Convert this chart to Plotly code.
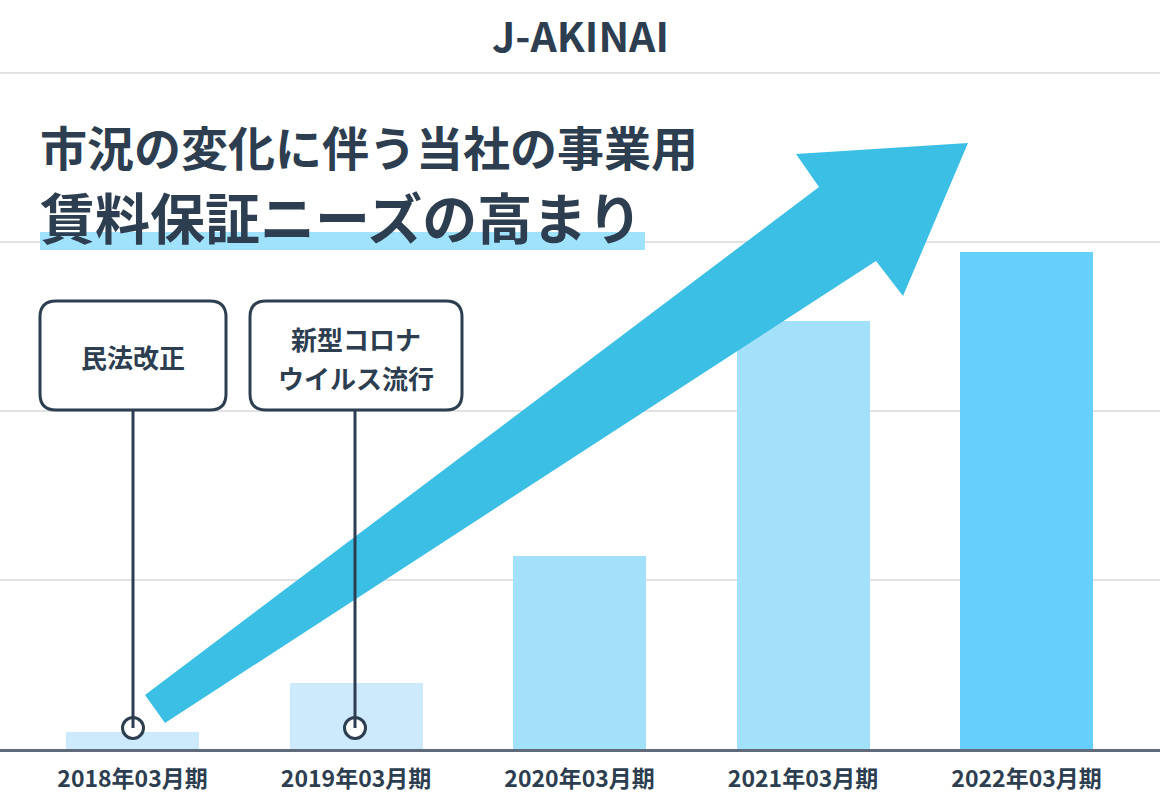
import plotly.graph_objects as go

# ---- data ----
categories = ["2018年03月期", "2019年03月期", "2020年03月期", "2021年03月期", "2022年03月期"]
values = [10, 39, 114, 253, 294]
bar_colors = ["#cdeafd", "#cdeafd", "#a3e1fb", "#a3e1fb", "#66cffc"]
title_text = "J-AKINAI"
heading_line1 = "市況の変化に伴う当社の事業用"
heading_line2 = "賃料保証ニーズの高まり"
callout1_text = "民法改正"
callout2_line1 = "新型コロナ"
callout2_line2 = "ウイルス流行"

W, H = 1160, 812
B = 63                      # bottom margin
PH = H - B                  # plot height (px)
DARK = "#2c3e50"
FONT = "Noto Sans CJK JP"


def X(px):
    return px / W


def Y(py):
    return (PH - py) / PH


def rounded_rect(x0, y0, x1, y1, r):
    return (
        f"M {X(x0 + r)},{Y(y0)} L {X(x1 - r)},{Y(y0)} Q {X(x1)},{Y(y0)} {X(x1)},{Y(y0 + r)} "
        f"L {X(x1)},{Y(y1 - r)} Q {X(x1)},{Y(y1)} {X(x1 - r)},{Y(y1)} "
        f"L {X(x0 + r)},{Y(y1)} Q {X(x0)},{Y(y1)} {X(x0)},{Y(y1 - r)} "
        f"L {X(x0)},{Y(y0 + r)} Q {X(x0)},{Y(y0)} {X(x0 + r)},{Y(y0)} Z"
    )


fig = go.Figure()
fig.add_trace(go.Bar(
    x=list(range(len(categories))), y=values,
    marker=dict(color=bar_colors, line=dict(width=0)),
    width=0.595, hoverinfo="skip",
))

shapes = []
# big arrow
arrow_pts = [(145, 695), (819, 187), (796, 154), (968, 143), (903, 296), (876, 261), (165, 723)]
path = "M " + " L ".join(f"{X(a)},{Y(b)}" for a, b in arrow_pts) + " Z"
shapes.append(dict(type="path", xref="paper", yref="paper", path=path,
                   fillcolor="#3bbfe4", line=dict(width=0), layer="above"))
# highlight under heading line 2
shapes.append(dict(type="rect", xref="paper", yref="paper",
                   x0=X(40), x1=X(645), y0=Y(250), y1=Y(232),
                   fillcolor="#a0e1fb", line=dict(width=0), layer="above"))
# callout boxes
for (x0, x1) in [(40, 226), (250, 462)]:
    shapes.append(dict(type="path", xref="paper", yref="paper",
                       path=rounded_rect(x0, 301, x1, 410, 16),
                       fillcolor="white", line=dict(color=DARK, width=3), layer="above"))
# callout stems and circles
for cx in [133, 355]:
    r = 10.5
    cy = 728
    shapes.append(dict(type="circle", xref="paper", yref="paper",
                       x0=X(cx - r), x1=X(cx + r), y0=Y(cy + r), y1=Y(cy - r),
                       fillcolor="white", line=dict(color=DARK, width=3), layer="above"))
    shapes.append(dict(type="line", xref="paper", yref="paper",
                       x0=X(cx), x1=X(cx), y0=Y(411), y1=Y(cy),
                       line=dict(color=DARK, width=3), layer="above"))


def ann(text, px, py, size, anchor="center", yanchor="middle"):
    return dict(text=text, x=X(px), y=Y(py), xref="paper", yref="paper",
                showarrow=False, xanchor=anchor, yanchor=yanchor,
                font=dict(family=FONT, size=size, color=DARK, weight=700))


annotations = [
    ann(title_text, 580, 2, 41, yanchor="top"),
    ann(heading_line1, 38, 145, 47, "left"),
    ann(heading_line2, 38, 215, 55, "left"),
    ann(callout1_text, 133, 356, 26),
    ann(callout2_line1, 356, 338, 26),
    ann(callout2_line2, 356, 377, 26),
]

fig.update_layout(
    width=W, height=H,
    margin=dict(l=0, r=0, t=0, b=B, pad=0),
    paper_bgcolor="white", plot_bgcolor="white",
    showlegend=False,
    shapes=shapes, annotations=annotations,
    bargap=0,
)
fig.update_xaxes(
    range=[-0.593, 4.597], tickmode="array",
    tickvals=list(range(len(categories))), ticktext=categories,
    showgrid=False, zeroline=False, showline=True, linecolor="#5f6b78", linewidth=3,
    ticks="", ticklabelstandoff=7,
    tickfont=dict(family=FONT, size=23, color=DARK, weight=700),
    fixedrange=True,
)
fig.update_yaxes(
    range=[0, 443.2], dtick=100, showticklabels=False,
    showgrid=True, gridcolor="#e2e2e2", gridwidth=2, zeroline=False,
    fixedrange=True,
)

fig.write_html(
    "out.html",
    config={"displayModeBar": False},
    post_script="document.body.style.margin='0';document.body.style.overflow='hidden';",
)
